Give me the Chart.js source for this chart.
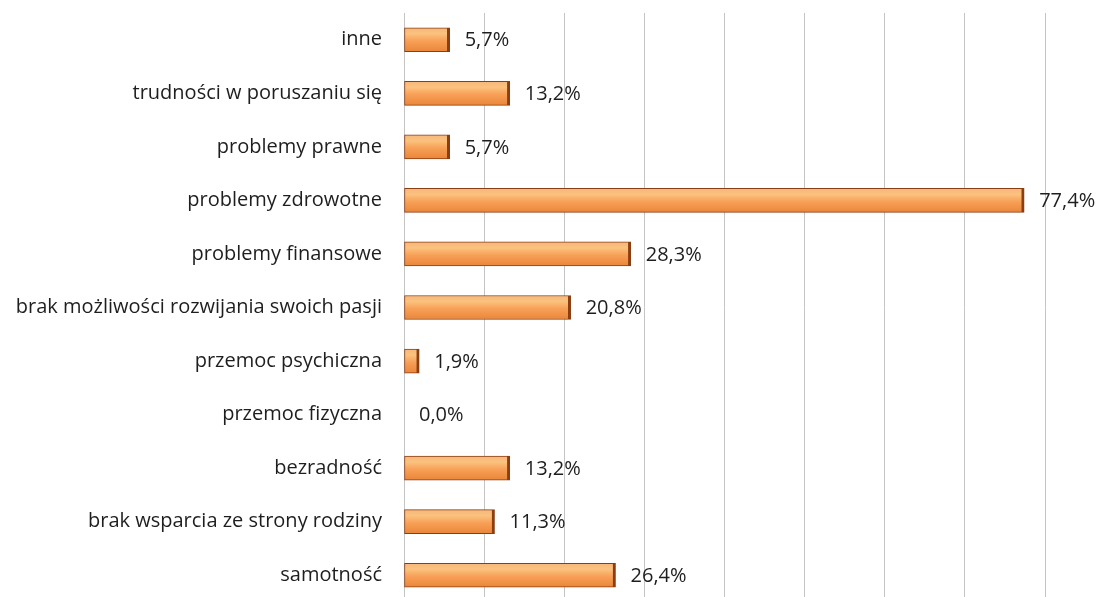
<!DOCTYPE html>
<html>
<head>
<meta charset="utf-8">
<script src="https://cdn.jsdelivr.net/npm/chart.js@4"></script>
<style>
  html, body { margin: 0; padding: 0; background: #fff; overflow: hidden; }
</style>
</head>
<body>
<canvas id="chart" width="1114" height="602"></canvas>
<script>
const categories = [
  'inne',
  'trudności w poruszaniu się',
  'problemy prawne',
  'problemy zdrowotne',
  'problemy finansowe',
  'brak możliwości rozwijania swoich pasji',
  'przemoc psychiczna',
  'przemoc fizyczna',
  'bezradność',
  'brak wsparcia ze strony rodziny',
  'samotność'
];
const percentValues = [5.7, 13.2, 5.7, 77.4, 28.3, 20.8, 1.9, 0.0, 13.2, 11.3, 26.4];
const axisMax = 80;
const axisStep = 10;

const FONT = "'Open Sans', 'Noto Sans', sans-serif";

// gradient for the bevelled orange bars
function barFill(context) {
  var chart = context.chart;
  var y = chart.scales.y;
  if (!y || y.top === undefined) return '#F79646';
  var cy = y.getPixelForValue(context.dataIndex);
  var h = 12;
  var g = chart.ctx.createLinearGradient(0, cy - h, 0, cy + h);
  g.addColorStop(0, '#F6B77C');
  g.addColorStop(0.25, '#FBC27E');
  g.addColorStop(0.55, '#F8A057');
  g.addColorStop(1, '#E9863A');
  return g;
}

// values written after each bar, with comma decimals
const valueLabels = {
  id: 'valueLabels',
  afterDatasetsDraw(chart) {
    var ctx = chart.ctx;
    var meta = chart.getDatasetMeta(0);
    ctx.save();
    ctx.font = '20px ' + FONT;
    ctx.fillStyle = '#1e1e1e';
    ctx.textBaseline = 'middle';
    ctx.textAlign = 'left';
    meta.data.forEach(function(bar, i) {
      var txt = percentValues[i].toFixed(1).replace('.', ',') + '%';
      ctx.fillText(txt, bar.x + 15, bar.y + 1);
    });
    ctx.restore();
  }
};

new Chart(document.getElementById('chart').getContext('2d'), {
  type: 'bar',
  data: {
    labels: categories,
    datasets: [{
      data: percentValues,
      backgroundColor: barFill,
      borderColor: '#8B3E12',
      borderWidth: {top: 1, right: 3, bottom: 1, left: 1},
      borderSkipped: false,
      barThickness: 24
    }]
  },
  options: {
    indexAxis: 'y',
    responsive: false,
    animation: false,
    layout: { padding: { top: 13, right: 69, bottom: 0, left: 0 } },
    plugins: {
      legend: { display: false },
      tooltip: { enabled: false }
    },
    scales: {
      x: {
        min: 0,
        max: axisMax,
        ticks: { display: false, stepSize: axisStep },
        grid: { color: '#c4c4c4', lineWidth: 1, drawTicks: false },
        border: { display: false },
        afterFit: function(s) { s.height = 0; s.paddingLeft = 0; s.paddingRight = 0; }
      },
      y: {
        ticks: {
          color: '#1e1e1e',
          font: { family: FONT, size: 20 },
          padding: 22
        },
        grid: { display: false, drawTicks: false },
        border: { display: false },
        afterFit: function(s) { s.width = 404; s.paddingTop = 0; s.paddingBottom = 0; }
      }
    }
  },
  plugins: [valueLabels]
});
</script>
</body>
</html>
